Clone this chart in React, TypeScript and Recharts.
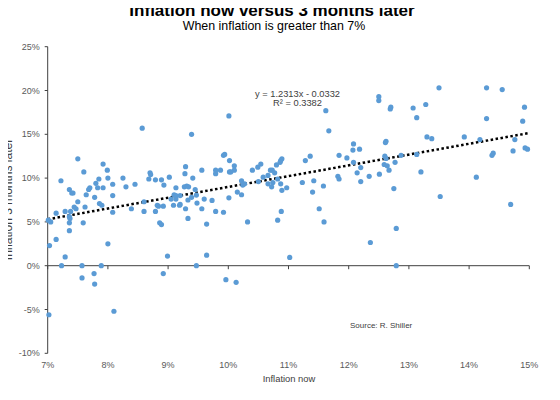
import { ReferenceLine, Scatter, ScatterChart, XAxis, YAxis } from 'recharts';

// inflation now (%) and inflation 3 months later (%)
const inflationNow = [
  7.22, 7.36, 7.4, 7.42, 7.5, 7.6, 7.64, 7.68, 7.7, 7.78, 7.8, 7.83, 7.85, 7.92, 7.92, 7.99, 8.0, 8.08, 8.08, 8.25,
  8.3, 8.45, 8.57, 8.68, 8.7, 8.71, 8.79, 8.89, 8.93, 9.02, 9.13, 9.29, 9.28, 9.27, 9.31, 9.34, 9.39,
  7.01, 7.05, 7.14, 7.03, 7.14, 7.02, 7.23, 7.29, 7.29, 7.36, 7.37, 7.36, 7.36, 7.38, 7.44, 7.47, 7.5, 7.59, 7.62,
  7.57, 7.57, 7.77, 7.78, 7.86, 7.9, 7.89, 8.0, 8.08, 8.1, 8.39, 8.6, 8.6, 8.79, 8.82, 8.84, 8.92, 8.86, 8.89,
  8.92, 8.99, 9.05, 9.09, 9.1, 9.13, 9.13, 9.19, 9.29, 9.33, 9.33,
  10.01, 11.62, 11.67, 11.97, 11.84, 11.82, 11.84, 11.58, 11.42, 11.4, 11.36, 11.28, 11.23, 10.89, 10.87, 10.86,
  10.8, 10.73, 10.7, 10.77, 10.66, 10.58, 10.82, 10.74, 10.66, 10.87, 10.89, 10.97, 10.72, 10.54, 10.49, 10.4,
  10.5, 10.24, 10.22, 10.27, 10.15, 10.22, 10.01, 9.92, 9.94, 10.02, 10.1, 10.1, 10.02, 10.04, 9.79, 9.79, 9.87,
  9.56, 9.41, 9.45, 9.47, 9.2, 9.39, 9.6, 9.73, 9.48, 9.2, 9.56, 9.79, 9.92, 9.64, 10.32, 10.82, 10.88, 11.51,
  11.59, 9.64, 9.47, 11.02, 9.96, 10.13,
  13.5, 14.29, 14.55, 12.5, 12.5, 12.7, 12.69, 13.07, 13.28, 13.13, 14.92, 14.29, 14.89, 13.3, 13.38, 13.92,
  14.18, 14.76, 12.62, 12.61, 12.08, 12.07, 12.18, 14.93, 14.97, 14.73, 14.4, 14.38, 13.13, 12.87, 12.6, 12.62,
  12.77, 12.08, 12.59, 12.64, 12.67, 12.2, 12.14, 12.34, 12.51, 12.2, 13.2, 14.12, 12.75, 13.52, 14.69, 12.79,
  12.36, 12.79,
];

const inflationLater = [
  9.7, 8.7, 8.3, 8.3, 12.2, 10.7, 8.1, 8.7, 8.9, 7.8, 9.4, 8.9, 9.9, 11.6, 8.9, 10.9, 10.0, 8.0, 9.3, 10.0,
  9.0, 9.3, 15.7, 9.9, 10.6, 10.4, 9.8, 9.8, 9.2, 10.1, 8.9, 11.3, 10.5, 9.0, 9.1, 9.0, 15.0,
  5.2, 5.0, 6.0, 2.3, 3.0, -5.6, 0.0, 1.0, 6.2, 5.6, 5.4, 4.9, 4.0, 6.2, 6.7, 6.5, 7.3, 4.9, 6.7,
  0.0, -1.4, -0.9, -2.1, 7.1, 6.9, 0.0, 2.5, 6.1, -5.2, 6.5, 6.2, 7.3, 6.2, 6.9, 6.8, 6.8, 4.9, 4.7,
  -0.9, 1.1, 7.6, 6.9, 8.1, 7.6, 8.0, 6.9, 6.5, 5.4, 7.5,
  17.1, 17.7, 15.4, 12.3, 12.6, 10.2, 9.9, 9.1, 9.7, 8.4, 12.5, 12.0, 9.5, 12.2, 12.0, 11.8,
  11.5, 10.9, 10.9, 10.6, 10.3, 10.1, 9.9, 9.5, 9.35, 9.35, 8.6, 8.9, 9.0, 11.6, 11.25, 10.9,
  9.6, 9.2, 9.7, 9.35, 8.4, 8.1, 7.75, 12.6, 12.7, 12.0, 11.4, 10.9, 10.7, 10.7, 10.9, 10.5, 10.9,
  10.9, 10.0, 8.7, 8.06, 8.0, 7.8, 7.6, 7.45, 7.15, 7.0, 6.5, 6.2, 6.1, 4.75, 5.0, 5.2, 6.2, 6.5,
  5.0, 1.2, 0.0, 0.95, -1.6, -1.9,
  20.3, 20.3, 20.1, 19.3, 18.85, 18.1, 17.9, 18.0, 18.4, 16.9, 18.1, 16.8, 16.5, 14.7, 14.5, 14.7,
  14.4, 14.4, 14.2, 14.06, 13.9, 13.2, 13.3, 13.45, 13.3, 13.1, 12.85, 12.6, 12.7, 12.6, 12.5, 12.25,
  11.8, 11.8, 11.55, 11.4, 10.9, 11.2, 10.6, 10.2, 10.45, 9.6, 10.7, 10.1, 8.8, 7.9, 7.0, 4.25,
  2.65, 0.0,
];

const xTicks = [7, 8, 9, 10, 11, 12, 13, 14, 15];
const yTicks = [-10, -5, 0, 5, 10, 15, 20, 25];

// linear trendline shown on the chart: y = 1.2313x - 0.0332
const trendSlope = 1.2313;
const trendIntercept = -0.0332;

const data = inflationNow.map((x, i) => ({ x, y: inflationLater[i] }));
const trendY = (x: number) => (trendSlope * (x / 100) + trendIntercept) * 100;

const FONT = 'Arial, "Liberation Sans", sans-serif';
const TICK = { fontSize: 9, fill: '#595959', fontFamily: FONT };

const Dot = (props: any) => <circle cx={props.cx} cy={props.cy} r={2.6} fill="#5B9BD5" />;

export default function App() {
  return (
    <div style={{ position: 'relative', width: 544, height: 384, fontFamily: FONT }}>
      <ScatterChart width={544} height={384} margin={{ top: 38.7, right: 22.7, bottom: 8.7, left: 0 }}>
        <XAxis
          type="number"
          dataKey="x"
          domain={[7, 15]}
          ticks={xTicks}
          tickFormatter={(v) => `${v}%`}
          axisLine={false}
          tickLine={false}
          tick={TICK}
          height={30}
          interval={0}
        />
        <YAxis
          type="number"
          dataKey="y"
          domain={[-10, 25]}
          ticks={yTicks}
          tickFormatter={(v) => `${v}%`}
          axisLine={{ stroke: '#404040' }}
          tickLine={{ stroke: '#404040' }}
          tickSize={3}
          tickMargin={5}
          tick={TICK}
          width={39.7}
          interval={0}
        />
        <ReferenceLine y={0} stroke="#404040" />
        {xTicks.map((t) => (
          <ReferenceLine key={t} segment={[{ x: t, y: 0 }, { x: t, y: -0.4 }]} stroke="#404040" />
        ))}
        <Scatter data={data} shape={Dot} isAnimationActive={false} />
        <ReferenceLine
          segment={[{ x: 7, y: trendY(7) }, { x: 15, y: trendY(15) }]}
          stroke="#000"
          strokeWidth={2.5}
          strokeDasharray="2.5 2.5"
        />
      </ScatterChart>
      <svg
        width={560}
        height={400}
        viewBox="0 0 560 400"
        style={{ position: 'absolute', left: -8, top: -8, pointerEvents: 'none', overflow: 'visible' }}
        fontFamily={FONT}
      >
        <text x={272} y={16} textAnchor="middle" fontSize={17} fontWeight="bold" fill="#000">
          Inflation now versus 3 months later
        </text>
        <text x={274} y={29.5} textAnchor="middle" fontSize={12.4} fill="#000">
          When inflation is greater than 7%
        </text>
        <text x={297.5} y={96.5} textAnchor="middle" fontSize={9.3} fill="#404040">
          y = 1.2313x - 0.0332
        </text>
        <text x={297.5} y={106} textAnchor="middle" fontSize={9.3} fill="#404040">
          R² = 0.3382
        </text>
        <text x={350} y={327.5} fontSize={8} fill="#404040">
          Source: R. Shiller
        </text>
        <text x={289} y={381.5} textAnchor="middle" fontSize={9.4} fill="#404040">
          Inflation now
        </text>
        <text
          x={0}
          y={0}
          transform="translate(12 199.5) rotate(-90)"
          textAnchor="middle"
          fontSize={12}
          fill="#404040"
        >
          Inflation 3 months later
        </text>
      </svg>
    </div>
  );
}
